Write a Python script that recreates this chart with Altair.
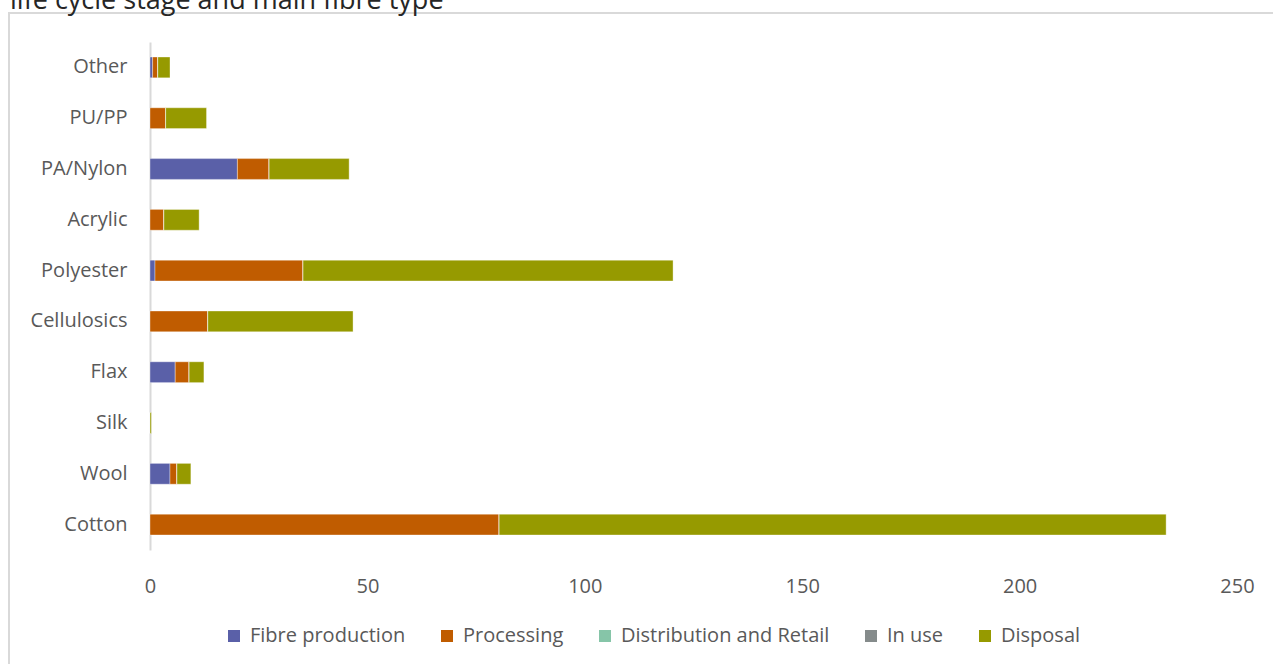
import altair as alt
import pandas as pd

# Fibre types, top to bottom
fibres = ["Other", "PU/PP", "PA/Nylon", "Acrylic", "Polyester",
          "Cellulosics", "Flax", "Silk", "Wool", "Cotton"]

stages = ["Fibre production", "Processing", "Distribution and Retail",
          "In use", "Disposal"]
stage_colors = ["#5a60a8", "#c05c00", "#86c5a8", "#858b8b", "#969a00"]

# Values per life cycle stage, one entry per fibre (same order as `fibres`)
fibre_production = [0.6, 0.0, 20.1, 0.0, 1.15, 0.0, 5.8, 0.0, 4.6, 0.0]
processing       = [1.2, 3.6, 7.3, 3.2, 34.05, 13.3, 3.2, 0.0, 1.6, 80.3]
distribution     = [0.0, 0.0, 0.0, 0.0, 0.0, 0.0, 0.0, 0.0, 0.0, 0.0]
in_use           = [0.0, 0.0, 0.0, 0.0, 0.0, 0.0, 0.0, 0.0, 0.0, 0.0]
disposal         = [2.8, 9.4, 18.4, 8.1, 85.1, 33.4, 3.4, 0.3, 3.2, 153.4]

x_ticks = [0, 50, 100, 150, 200, 250]

title_text = "life cycle stage and main fibre type"

series = [fibre_production, processing, distribution, in_use, disposal]
rows = []
for s_idx, (stage, vals) in enumerate(zip(stages, series)):
    for fibre, v in zip(fibres, vals):
        rows.append({"fibre": fibre, "stage": stage, "order": s_idx, "value": v})
df = pd.DataFrame(rows)

FONT = "Open Sans"
GREY_TEXT = "#595959"

bars = alt.Chart(df).mark_bar(stroke="#ffffff", strokeWidth=0.6, strokeOpacity=0.6).encode(
    y=alt.Y("fibre:N", sort=fibres,
            scale=alt.Scale(paddingInner=0.59, paddingOuter=0.295),
            axis=alt.Axis(title=None, ticks=False, domain=True,
                          domainColor="#d9d9d9", domainWidth=2,
                          labelFont=FONT, labelFontSize=20,
                          labelColor=GREY_TEXT, labelPadding=23)),
    x=alt.X("value:Q", stack="zero",
            scale=alt.Scale(domain=[0, 250], nice=False),
            axis=alt.Axis(title=None, values=x_ticks, grid=False,
                          domain=False, ticks=False, labelFlush=False,
                          labelFont=FONT, labelFontSize=20,
                          labelColor=GREY_TEXT, labelPadding=26)),
    color=alt.Color("stage:N", sort=stages,
                    scale=alt.Scale(domain=stages, range=stage_colors),
                    legend=alt.Legend(title=None, orient="none",
                                      direction="horizontal",
                                      legendX=74, legendY=584,
                                      symbolType="square", symbolSize=144,
                                      symbolStrokeWidth=0,
                                      labelFont=FONT, labelFontSize=20,
                                      labelColor=GREY_TEXT, labelOffset=6,
                                      labelLimit=400, columnPadding=31)),
    order=alt.Order("order:Q"),
)

title = alt.Chart(pd.DataFrame({"t": [title_text]})).mark_text(
    align="left", baseline="alphabetic", font=FONT, fontSize=27,
    color="#262626").encode(
    text="t:N", x=alt.value(-140), y=alt.value(-33))

frame = alt.Chart(pd.DataFrame({"k": [0]})).mark_rect(
    fill=None, stroke="#d9d9d9", strokeWidth=2).encode(
    x=alt.value(-141), x2=alt.value(1140), y=alt.value(-29), y2=alt.value(640))

chart = alt.layer(frame, bars, title).properties(
    width=1087, height=508,
    padding={"left": 150, "top": 42, "right": 36, "bottom": 114},
    autosize=alt.AutoSizeParams(type="none"),
    background="#ffffff",
).configure_view(strokeWidth=0, stroke=None)

chart.save("out.html", embed_options={"renderer": "svg", "actions": False})
